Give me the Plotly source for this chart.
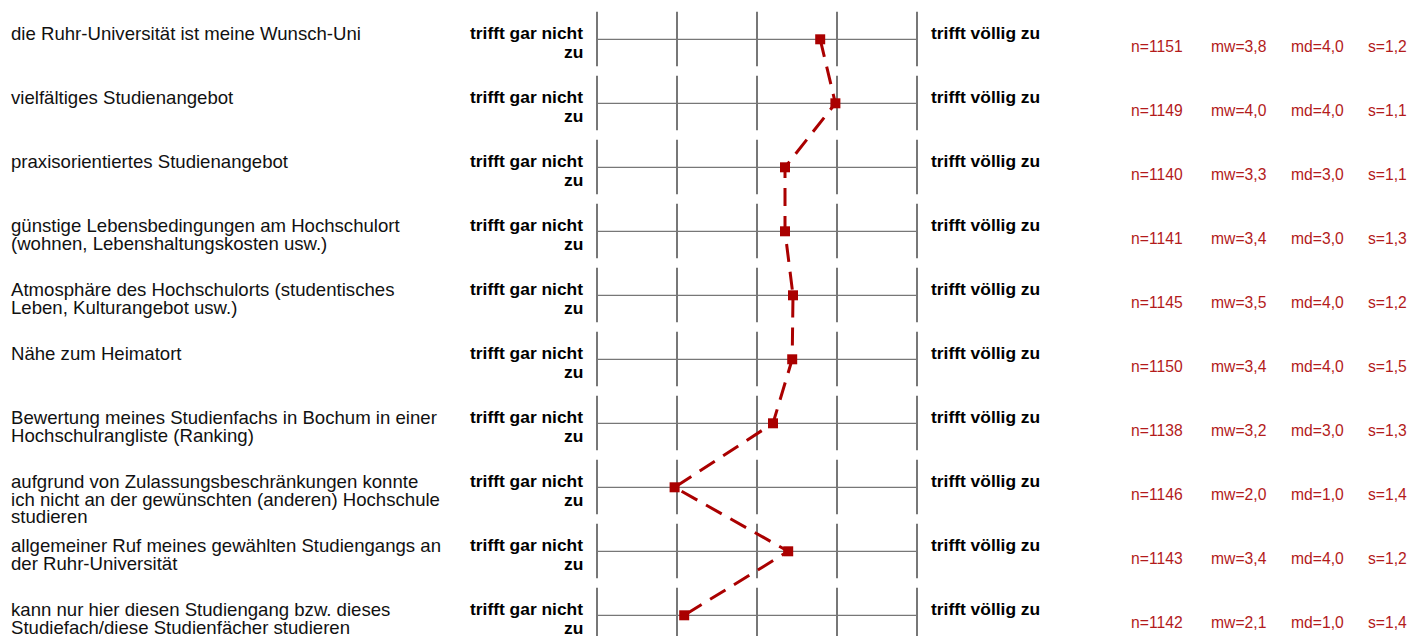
import plotly.graph_objects as go

# items (rows of the profile)
labels = [
    "die Ruhr-Universität ist meine Wunsch-Uni",
    "vielfältiges Studienangebot",
    "praxisorientiertes Studienangebot",
    "günstige Lebensbedingungen am Hochschulort<br>(wohnen, Lebenshaltungskosten usw.)",
    "Atmosphäre des Hochschulorts (studentisches<br>Leben, Kulturangebot usw.)",
    "Nähe zum Heimatort",
    "Bewertung meines Studienfachs in Bochum in einer<br>Hochschulrangliste (Ranking)",
    "aufgrund von Zulassungsbeschränkungen konnte<br>ich nicht an der gewünschten (anderen) Hochschule<br>studieren",
    "allgemeiner Ruf meines gewählten Studiengangs an<br>der Ruhr-Universität",
    "kann nur hier diesen Studiengang bzw. dieses<br>Studiefach/diese Studienfächer studieren",
]

# plotted mean positions
values = [3.79, 3.98, 3.35, 3.35, 3.45, 3.44, 3.2, 1.97, 3.39, 2.09]

# statistics shown on the right
n = [1151, 1149, 1140, 1141, 1145, 1150, 1138, 1146, 1143, 1142]
mw = [3.8, 4.0, 3.3, 3.4, 3.5, 3.4, 3.2, 2.0, 3.4, 2.1]
md = [4.0, 4.0, 3.0, 3.0, 4.0, 4.0, 3.0, 1.0, 4.0, 1.0]
s = [1.2, 1.1, 1.1, 1.3, 1.2, 1.5, 1.3, 1.4, 1.2, 1.4]

scale = [1, 2, 3, 4, 5]
left_pole = "trifft gar nicht<br>zu"
right_pole = "trifft völlig zu"

W, H = 1414, 636
px_unit = 80            # pixels per scale step
x_left_px = 597         # pixel of scale value 1
row_px = 64             # pixels per row
first_row_px = 39.3

FONT = "Arial, Liberation Sans, sans-serif"
RED = "#aa0000"
STAT_RED = "#b31b1b"

rows = list(range(1, len(labels) + 1))


def fmt(v):
    return f"{v:.1f}".replace(".", ",")


fig = go.Figure()

fig.add_trace(go.Scatter(
    x=values, y=rows, mode="lines+markers",
    line=dict(color=RED, width=3, dash="18px,10px"),
    marker=dict(symbol="square", size=10, color=RED),
    hoverinfo="skip", showlegend=False,
))

shapes = []
annotations = []
for r, lab in zip(rows, labels):
    # horizontal scale line
    shapes.append(dict(type="line", x0=scale[0], x1=scale[-1], y0=r, y1=r,
                       line=dict(color="#555555", width=1), layer="below"))
    # vertical ticks
    for v in scale:
        shapes.append(dict(type="line", x0=v, x1=v, y0=r - 27.5 / row_px, y1=r + 27 / row_px,
                           line=dict(color="#777777", width=2), layer="below"))
    # item label, one annotation per line to get the tight line spacing
    for k, line in enumerate(lab.split("<br>")):
        annotations.append(dict(x=9 / W, xref="paper", y=r, yref="y", text=line,
                                xanchor="left", yanchor="middle", showarrow=False,
                                yshift=6 - 17.8 * k,
                                font=dict(family=FONT, size=18.6, color="#111111")))
    for k, line in enumerate(left_pole.split("<br>")):
        annotations.append(dict(x=scale[0], y=r, text="<b>" + line + "</b>",
                                xanchor="right", yanchor="middle", showarrow=False,
                                xshift=-12, yshift=6 - 18.5 * k,
                                font=dict(family=FONT, size=17.4, color="#000000")))
    annotations.append(dict(x=scale[-1], y=r, text="<b>" + right_pole + "</b>",
                            xanchor="left", yanchor="middle", showarrow=False,
                            xshift=12, yshift=6,
                            font=dict(family=FONT, size=17.4, color="#000000")))

# statistics columns
stat_cols = [(1129, "n=", n, str), (1209, "mw=", mw, fmt), (1289, "md=", md, fmt), (1366, "s=", s, fmt)]
for xp, pre, arr, f in stat_cols:
    for r, v in zip(rows, arr):
        annotations.append(dict(x=xp / W, xref="paper", y=r, yref="y", text=pre + f(v),
                                xanchor="left", yanchor="middle", showarrow=False,
                                yshift=-7,
                                font=dict(family=FONT, size=15.7, color=STAT_RED)))

x0 = 1 - x_left_px / px_unit
x1 = 1 + (W - x_left_px) / px_unit
y_top = 1 - first_row_px / row_px
y_bot = 1 + (H - first_row_px) / row_px

fig.update_layout(
    width=W, height=H,
    margin=dict(l=0, r=0, t=0, b=0),
    paper_bgcolor="white", plot_bgcolor="white",
    xaxis=dict(range=[x0, x1], visible=False, fixedrange=True),
    yaxis=dict(range=[y_bot, y_top], visible=False, fixedrange=True),
    shapes=shapes, annotations=annotations,
    showlegend=False,
)

# drop the default page margin so the chart fills the window
fig.write_html("out.html", config={"displayModeBar": False},
               post_script="document.body.style.margin='0';document.body.style.overflow='hidden';")
